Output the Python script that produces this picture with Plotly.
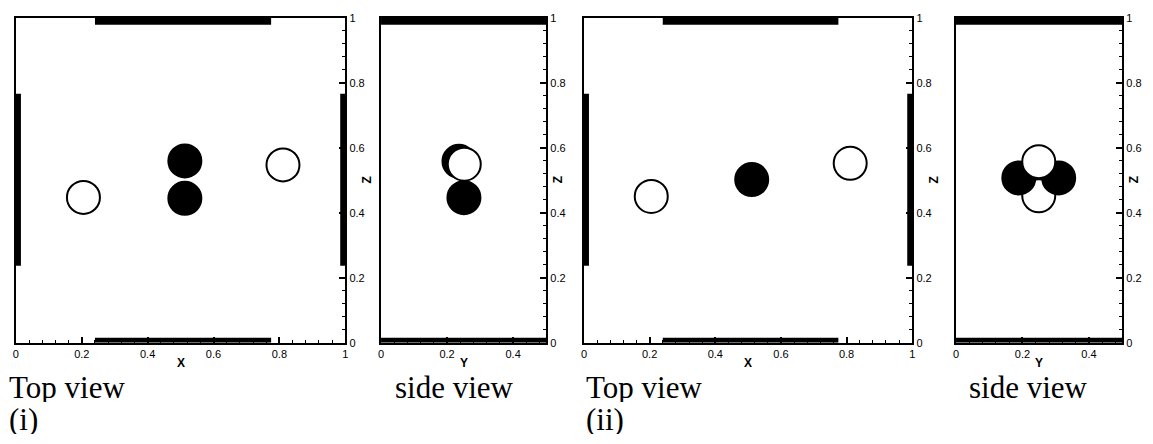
import plotly.graph_objects as go

W, H = 1153, 444

# Panel extents in pixels (left, right) and common vertical extent (top, bottom)
panels_px = [(13, 344), (380, 546), (584, 914), (958, 1125)]
top_px, bottom_px = 12, 346

# Axis ranges: top views span X in [0,1], side views span Y in [0,0.5]
x_ranges = [[0, 1], [0, 0.5], [0, 1], [0, 0.5]]
x_letters = ["X", "Y", "X", "Y"]
x_tickvals = [[0, 0.2, 0.4, 0.6, 0.8, 1], [0, 0.2, 0.4], [0, 0.2, 0.4, 0.6, 0.8, 1], [0, 0.2, 0.4]]
x_ticktext = [["0", "0.2", "0.4", "0.6", "0.8", "1"], ["0", "0.2", "0.4"],
              ["0", "0.2", "0.4", "0.6", "0.8", "1"], ["0", "0.2", "0.4"]]
z_tickvals = [0, 0.2, 0.4, 0.6, 0.8, 1]
z_ticktext = ["0", "0.2", "0.4", "0.6", "0.8", "1"]

# Particle centres (horizontal coordinate, Z) and colour, in drawing order
p1_h = [0.205, 0.811, 0.513, 0.513]
p1_z = [0.447, 0.547, 0.559, 0.444]
p1_c = ["white", "white", "black", "black"]

p2_h = [0.236, 0.252, 0.251]
p2_z = [0.558, 0.549, 0.446]
p2_c = ["black", "white", "black"]

p3_h = [0.205, 0.811, 0.511]
p3_z = [0.450, 0.552, 0.502]
p3_c = ["white", "white", "black"]

p4_h = [0.249, 0.189, 0.309, 0.249]
p4_z = [0.452, 0.507, 0.507, 0.557]
p4_c = ["white", "black", "black", "white"]

particles = [(p1_h, p1_z, p1_c), (p2_h, p2_z, p2_c), (p3_h, p3_z, p3_c), (p4_h, p4_z, p4_c)]

# Wall segments: top/bottom walls (horizontal extent) and left/right walls (Z extent)
top_view_wall_h = [0.24, 0.775]
top_view_wall_z = [0.237, 0.766]
side_view_wall_h = [0, 0.5]

captions = [("Top view", 5, 392), ("(i)", 5, 424), ("side view", 393, 392),
            ("Top view", 585, 392), ("(ii)", 585, 424), ("side view", 970, 392)]

fig = go.Figure()
tick_font = dict(family="Liberation Sans, Arial", size=11, color="black")
letter_font = dict(family="Liberation Sans, Arial", size=12, color="black")
shapes = []
annotations = []

for i, ((l, r), xr) in enumerate(zip(panels_px, x_ranges)):
    n = "" if i == 0 else str(i + 1)
    xa, ya = "x" + n, "y" + n
    h, z, c = particles[i]
    fig.add_trace(go.Scatter(
        x=h, y=z, mode="markers", xaxis=xa, yaxis=ya, showlegend=False,
        marker=dict(size=33, color=c, line=dict(color="black", width=2)),
        hoverinfo="skip", cliponaxis=False))

    fig.layout["xaxis" + n] = dict(
        domain=[l / W, r / W], range=xr, anchor=ya,
        showline=True, linecolor="black", linewidth=2, mirror=True,
        showgrid=False, zeroline=False, fixedrange=True,
        ticks="inside", ticklen=6, tickwidth=1.5, tickcolor="black",
        tickvals=x_tickvals[i], ticktext=x_ticktext[i], tickfont=tick_font,
        minor=dict(dtick=0.04, tick0=0, ticks="inside", ticklen=3, tickwidth=1, tickcolor="black"))
    fig.layout["yaxis" + n] = dict(
        domain=[1 - bottom_px / H, 1 - top_px / H], range=[0, 1], anchor=xa, side="right",
        showline=True, linecolor="black", linewidth=2, mirror=True,
        showgrid=False, zeroline=False, fixedrange=True,
        ticks="inside", ticklen=6, tickwidth=1.5, tickcolor="black",
        tickvals=z_tickvals, ticktext=z_ticktext, tickfont=tick_font,
        minor=dict(dtick=0.04, tick0=0, ticks="inside", ticklen=3, tickwidth=1, tickcolor="black"))

    side = i in (1, 3)
    wall_h = side_view_wall_h if side else top_view_wall_h
    # top wall
    shapes.append(dict(type="rect", xref=xa, yref=ya, x0=wall_h[0], x1=wall_h[1],
                       ysizemode="pixel", yanchor=1, y0=0, y1=-7,
                       fillcolor="black", line_width=0))
    # bottom wall
    shapes.append(dict(type="rect", xref=xa, yref=ya, x0=wall_h[0], x1=wall_h[1],
                       ysizemode="pixel", yanchor=0, y0=0, y1=5,
                       fillcolor="black", line_width=0))
    if not side:
        shapes.append(dict(type="rect", xref=xa, yref=ya, y0=top_view_wall_z[0], y1=top_view_wall_z[1],
                           xsizemode="pixel", xanchor=xr[0], x0=0, x1=5,
                           fillcolor="black", line_width=0))
        shapes.append(dict(type="rect", xref=xa, yref=ya, y0=top_view_wall_z[0], y1=top_view_wall_z[1],
                           xsizemode="pixel", xanchor=xr[1], x0=0, x1=-5,
                           fillcolor="black", line_width=0))

    annotations.append(dict(text="<b>%s</b>" % x_letters[i], xref=xa, yref=ya,
                            x=(xr[0] + xr[1]) / 2, y=0, yshift=-20, showarrow=False,
                            xanchor="center", yanchor="middle", font=letter_font))
    annotations.append(dict(text="<b>Z</b>", xref=xa + " domain", yref=ya, x=1, y=0.5,
                            xshift=12 if side else 22, showarrow=False, textangle=-90,
                            xanchor="center", yanchor="middle", font=letter_font))

# Captions use a compact text box so the two stacked lines sit close together
for text, px, py in captions:
    annotations.append(dict(text=text, xref="paper", yref="paper", x=px / W, y=1 - py / H,
                            xanchor="left", yanchor="middle", showarrow=False,
                            height=30, valign="middle", borderpad=0,
                            font=dict(family="Liberation Serif", size=31, color="black")))

fig.update_layout(width=W, height=H, margin=dict(l=0, r=0, t=0, b=0),
                  paper_bgcolor="white", plot_bgcolor="white",
                  shapes=shapes, annotations=annotations)

fig.write_html("out.html", include_plotlyjs=True, config={"displayModeBar": False})
